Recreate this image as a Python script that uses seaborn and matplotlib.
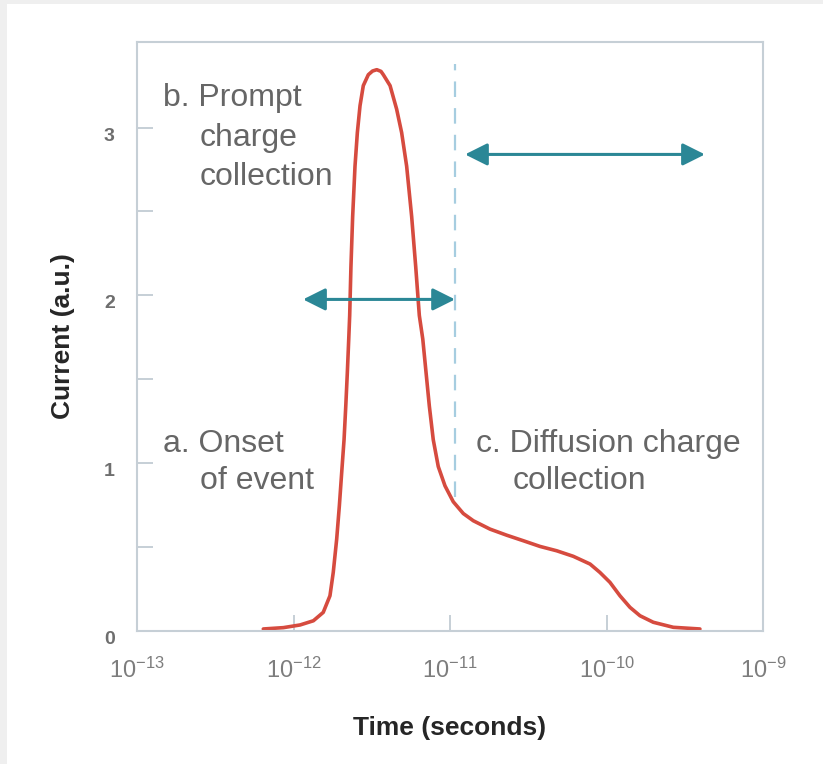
import matplotlib
matplotlib.use('Agg')
import matplotlib.pyplot as plt
from matplotlib.patches import Rectangle
from matplotlib.ticker import FixedLocator, FixedFormatter, NullLocator
import seaborn as sns
import numpy as np
import pandas as pd

# curve: log10(time in s) and current (a.u.)
log_time = [-12.193, -12.065, -11.958, -11.873, -11.810, -11.767, -11.746, -11.724,
            -11.707, -11.692, -11.677, -11.666, -11.656, -11.647, -11.641, -11.633,
            -11.622, -11.607, -11.592, -11.575, -11.554, -11.522, -11.495, -11.468,
            -11.441, -11.426, -11.383, -11.341, -11.309, -11.277, -11.245, -11.219,
            -11.196, -11.174, -11.153, -11.132, -11.107, -11.075, -11.032, -10.979,
            -10.915, -10.851, -10.744, -10.638, -10.532, -10.425, -10.318, -10.212,
            -10.105, -10.042, -9.978, -9.914, -9.850, -9.786, -9.701, -9.573, -9.403]
current = [0.012, 0.02, 0.036, 0.061, 0.111, 0.21, 0.349, 0.548,
           0.746, 0.945, 1.14, 1.34, 1.54, 1.74, 1.88, 2.17,
           2.47, 2.77, 2.97, 3.13, 3.25, 3.315, 3.337, 3.345,
           3.335, 3.315, 3.25, 3.11, 2.97, 2.77, 2.47, 2.17,
           1.88, 1.74, 1.54, 1.34, 1.14, 0.98, 0.865, 0.77,
           0.70, 0.657, 0.607, 0.571, 0.538, 0.504, 0.478, 0.445,
           0.399, 0.349, 0.29, 0.21, 0.141, 0.091, 0.052, 0.022, 0.012]

x_ticks = [1e-13, 1e-12, 1e-11, 1e-10, 1e-9]
x_tick_labels = ['10$^{-13}$', '10$^{-12}$', '10$^{-11}$', '10$^{-10}$', '10$^{-9}$']
y_ticks = [0, 1, 2, 3]
y_minor = [0.5, 1.5, 2.5]

prompt_end = 10 ** -10.968      # dashed boundary
prompt_arrow = (10 ** -11.939, 10 ** -10.968, 1.976)
diffusion_arrow = (10 ** -10.904, 10 ** -9.371, 2.84)

df = pd.DataFrame({'Time': 10.0 ** np.array(log_time), 'Current': current})

sns.set_style('white')
plt.rcParams['font.family'] = ['Liberation Sans', 'DejaVu Sans']
plt.rcParams['mathtext.fontset'] = 'custom'
plt.rcParams['mathtext.rm'] = 'Liberation Sans'
plt.rcParams['mathtext.it'] = 'Liberation Sans:italic'
plt.rcParams['mathtext.bf'] = 'Liberation Sans:bold'

fig = plt.figure(figsize=(8.23, 7.64), dpi=100, facecolor='#efefef')
fig.patches.append(Rectangle((7 / 823, 0), 1, 1 - 4 / 764, transform=fig.transFigure,
                             facecolor='white', edgecolor='none', zorder=-1))
ax = fig.add_axes([137 / 823, 1 - 631 / 764, 626 / 823, 589 / 764])

red = '#d64b3f'
teal = '#2b8796'
frame = '#c6cfd6'
grey_text = '#666666'

sns.lineplot(data=df, x='Time', y='Current', ax=ax, color=red, lw=2.6,
             sort=False, estimator=None, solid_joinstyle='round', solid_capstyle='round')
ax.set_xscale('log')
ax.set_xlim(1e-13, 1e-9)
ax.set_ylim(0, 3.51)

ax.xaxis.set_major_locator(FixedLocator(x_ticks))
ax.xaxis.set_major_formatter(FixedFormatter(x_tick_labels))
ax.xaxis.set_minor_locator(NullLocator())
ax.yaxis.set_major_locator(FixedLocator(y_ticks))
ax.yaxis.set_minor_locator(FixedLocator(y_minor))

ax.tick_params(axis='both', which='both', direction='in', length=11.5, width=1.4,
               color=frame, bottom=True, left=True, top=False, right=False)
ax.tick_params(axis='x', pad=19, labelsize=17, labelcolor='#7d7d7d')
ax.tick_params(axis='y', pad=16, labelsize=14, labelcolor='#6e6e6e')
for lab in ax.get_yticklabels():
    lab.set_fontweight('bold')
    lab.set_va('top')
    lab.set_y(lab.get_position()[1])
for s in ax.spines.values():
    s.set_color(frame)
    s.set_linewidth(1.5)

ax.set_xlabel('Time (seconds)', fontsize=19, fontweight='bold', labelpad=24)
ax.set_ylabel('Current (a.u.)', fontsize=19, fontweight='bold', labelpad=21)

# dashed boundary between prompt and diffusion collection
ax.plot([prompt_end, prompt_end], [0.8, 3.38], color='#a6cde0', lw=1.6,
        dashes=(7, 5), zorder=1)

arrow_kw = dict(arrowstyle='<|-|>,head_length=0.8,head_width=0.4', color=teal,
                lw=2.2, mutation_scale=17, shrinkA=0, shrinkB=0)
for x0, x1, yv in (prompt_arrow, diffusion_arrow):
    ax.annotate('', xy=(x1, yv), xytext=(x0, yv), arrowprops=arrow_kw)

txt = dict(transform=ax.transAxes, fontsize=23, color=grey_text, va='baseline', ha='left')
ax.text(0.0415, 0.8915, 'b. Prompt', **txt)
ax.text(0.1006, 0.8237, 'charge', **txt)
ax.text(0.1006, 0.7576, 'collection', **txt)
ax.text(0.0415, 0.3034, 'a. Onset', **txt)
ax.text(0.1006, 0.2407, 'of event', **txt)
ax.text(0.5415, 0.3034, 'c. Diffusion charge', **txt)
ax.text(0.6006, 0.2407, 'collection', **txt)

plt.savefig('out.png', dpi=100, facecolor=fig.get_facecolor())
plt.close()
